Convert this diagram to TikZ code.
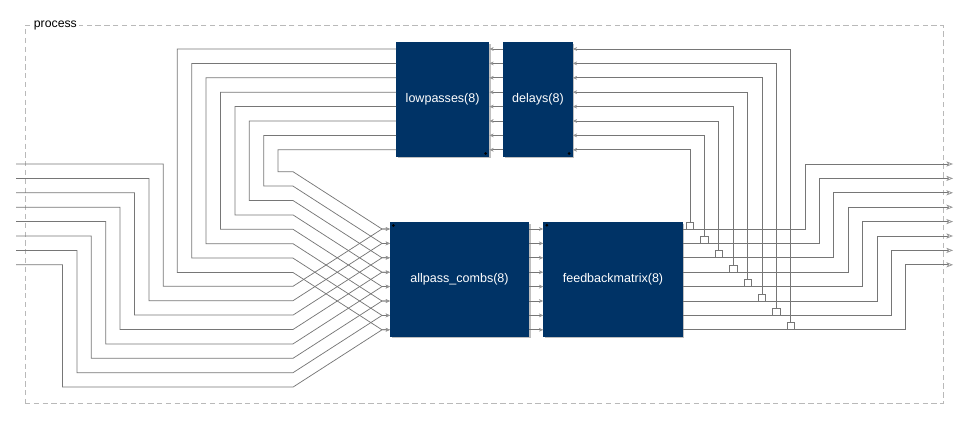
\documentclass[tikz,border=0pt]{standalone}
\usepackage{fontspec}
\setmainfont{Liberation Sans}
\usetikzlibrary{arrows.meta,shadows}

\definecolor{blockblue}{RGB}{0,51,102}
\definecolor{wiregray}{RGB}{118,118,118}
\definecolor{framegray}{RGB}{185,185,185}
\definecolor{tipgray}{RGB}{150,150,150}

\begin{document}
\begin{tikzpicture}[x=0.75pt,y=-0.75pt,
  block/.style={fill=blockblue, text=white, inner sep=0pt,
    minimum height=85.8pt, font=\fontsize{9.4}{11}\selectfont,
    drop shadow={shadow xshift=1.2pt, shadow yshift=-1.2pt, opacity=1, fill=black!25}},
  dotmark/.style={fill=black, draw=none},
  wire/.style={draw=wiregray, line width=0.55pt},
  portarrow/.style={-{Stealth[length=3.2pt,width=2.8pt,inset=0.8pt]}, arrows={-{Stealth[length=3.2pt,width=2.8pt,inset=0.8pt,fill=tipgray,color=tipgray]}}},
  outarrow/.style={arrows={-{Stealth[length=5pt,width=3.9pt,inset=1.3pt,fill=white,color=tipgray]}}},
  tapbox/.style={draw=wiregray, line width=0.55pt, fill=none, inner sep=0pt,
    minimum width=5.6pt, minimum height=5.3pt},
  framebox/.style={draw=framegray, line width=0.75pt, dash pattern=on 4pt off 2.6pt},
]
\useasboundingbox (0,0) rectangle (970,424);

% enclosing group frame and its title
\node[framebox, minimum width=688.7pt, minimum height=283.2pt, inner sep=0pt] (frame) at (484.15,214.5) {};
\node[anchor=west, fill=white, inner xsep=1.6pt, inner ysep=1pt, font=\fontsize{9.2}{11}\selectfont] (title) at (31.5,25.7) {process};

% the four blocks
\node[block, minimum width=70pt]     (lp) at (442.65,99.5) {lowpasses(8)};
\node[block, minimum width=52.05pt]  (dl) at (538,99.5)    {delays(8)};
\node[block, minimum width=104.25pt] (ap) at (459.5,279.5) {allpass\_combs(8)};
\node[block, minimum width=104.55pt] (fb) at (613,279.5)   {feedbackmatrix(8)};

% orientation dots
\fill[dotmark] ([shift={(-3.9,-3.5)}]lp.south east) circle (1.5);
\fill[dotmark] ([shift={(-3.9,-3.5)}]dl.south east) circle (1.5);
\fill[dotmark] ([shift={(3.6,3.4)}]ap.north west) circle (1.5);
\fill[dotmark] ([shift={(3.8,3.2)}]fb.north west) circle (1.5);

% ports
\foreach \k in {0,...,7}{
  \coordinate (in\k)     at (16,{164+14.4*\k});
  \coordinate (out\k)    at (953,{164+14.4*\k});
  \coordinate (lpout\k)  at (396,{49+14.4*\k});
  \coordinate (lpin\k)   at (489.3,{49+14.4*\k});
  \coordinate (dlout\k)  at (503.3,{49+14.4*\k});
  \coordinate (dlin\k)   at (572.7,{49+14.4*\k});
  \coordinate (apin\k)   at (390,{229+14.4*\k});
  \coordinate (apout\k)  at (529,{229+14.4*\k});
  \coordinate (fbin\k)   at (543.3,{229+14.4*\k});
  \coordinate (fbout\k)  at (682.7,{229+14.4*\k});
}

% external inputs into allpass_combs
\foreach \k in {0,...,7}{
  \draw[wire, portarrow] (in\k) -| ({163.3-14.4*\k},{286.3+14.4*\k})
    -- (293,{286.3+14.4*\k}) -- (382,{229+14.4*\k}) -- (apin\k);
}

% lowpasses outputs merged into allpass_combs
\foreach \r [evaluate=\r as \j using int(7-\r)] in {0,...,7}{
  \draw[wire, portarrow] (lpout\r) -| ({177.3+14.4*\r},{272.5-14.4*\r})
    -- (293,{272.5-14.4*\r}) -- (382,{329.8-14.4*\r}) -- (apin\j);
}

% delays -> lowpasses, allpass_combs -> feedbackmatrix
\foreach \k in {0,...,7}{
  \draw[wire, portarrow] (dlout\k) -- (lpin\k);
  \draw[wire, portarrow] (apout\k) -- (fbin\k);
}

% feedbackmatrix outputs to the process outputs
\foreach \k in {0,...,7}{
  \draw[wire, outarrow] (fbout\k) -- ({805+14.4*\k},{229+14.4*\k}) |- (out\k);
}

% feedback taps back into delays
\foreach \k [evaluate=\k as \j using int(7-\k)] in {0,...,7}{
  \node[tapbox] (tap\k) at ({690+14.4*\k},{225.5+14.4*\k}) {};
  \draw[wire, portarrow] (tap\k.north) |- (dlin\j);
}
\end{tikzpicture}
\end{document}
